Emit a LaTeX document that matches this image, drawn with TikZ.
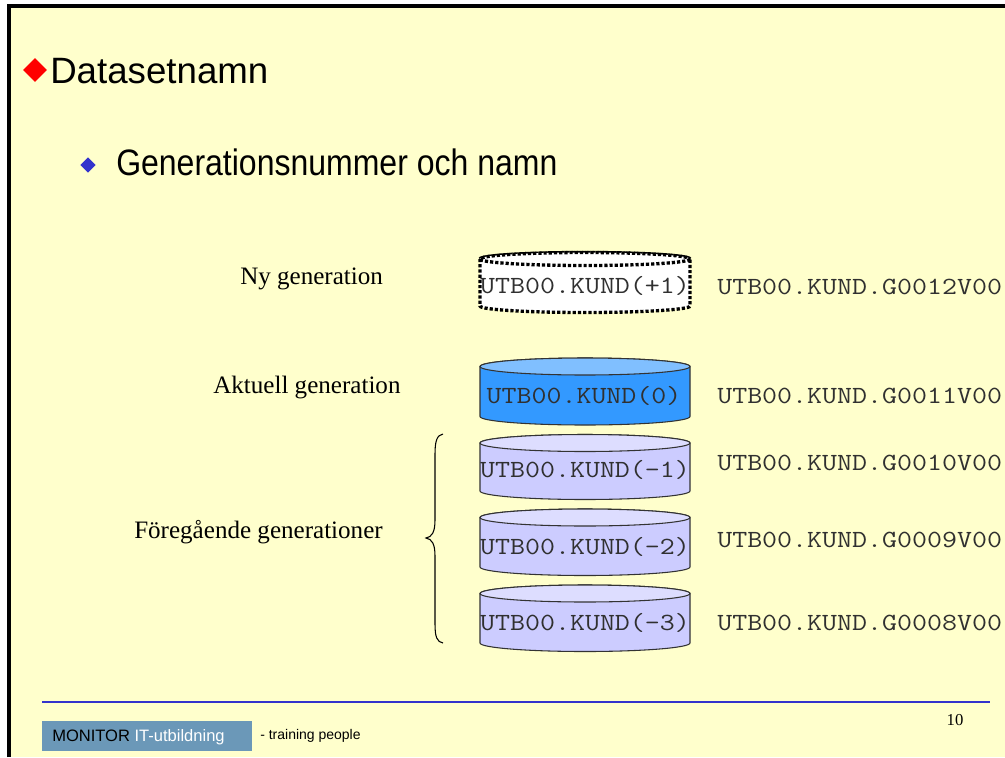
\documentclass[tikz,border=0pt]{standalone}
\usepackage{fontspec}
\setmainfont{Liberation Sans}
\newfontfamily\arialf{Liberation Sans}
\newfontfamily\tnrf{Liberation Serif}
\usetikzlibrary{shapes.geometric}
\definecolor{slidebg}{HTML}{FFFFCC}
\definecolor{bulletblue}{HTML}{3333CC}
\definecolor{cylblue}{HTML}{3399FF}
\definecolor{cylbluetop}{HTML}{80BFFF}
\definecolor{cyllav}{HTML}{CCCCFF}
\definecolor{cyllavtop}{HTML}{DDDDFF}
\definecolor{monotext}{HTML}{303030}
\definecolor{footbox}{HTML}{6B98B8}
\newcommand\monotxt[1]{\scalebox{1.18}[1]{#1}}
\tikzset{
  cyltext/.style={font=\ttfamily\fontsize{18.5}{20}\selectfont, text=monotext, inner sep=0pt},
  dsname/.style={font=\ttfamily\fontsize{18.5}{20}\selectfont, text=monotext, inner sep=0pt, anchor=west},
  genlabel/.style={font=\tnrf\fontsize{18.8}{20}\selectfont, inner sep=0pt, anchor=west},
  cylline/.style={draw=black!80, line width=0.8pt},
  dotline/.style={draw=black, line width=2.5pt, dash pattern=on 2.4pt off 1.5pt},
}
% #1 cx, #2 top y, #3 bottom y, #4 ry, #5 body colour, #6 top colour, #7 line style
\newcommand\mycyl[7]{%
  \path[#7, fill=#5] (#1-105,#2) -- (#1-105,#3)
     arc[start angle=180, end angle=0, x radius=105, y radius=#4]
     -- (#1+105,#2)
     arc[start angle=0, end angle=-180, x radius=105, y radius=#4] -- cycle;
  \path[#7, fill=#6] (#1,#2) ellipse[x radius=105, y radius=#4];
}
\begin{document}
\begin{tikzpicture}[x=0.75pt,y=-0.75pt]
\useasboundingbox (0,0) rectangle (1005,757);
\fill[white] (0,0) rectangle (1005,757);
\fill[slidebg] (9,6) rectangle (1005,757);
\draw[black, line width=3pt] (9,757) -- (9,5.5) -- (1005,5.5);

% title
\node[diamond, fill=red, inner sep=0pt, minimum width=18pt, minimum height=18pt] (rd) at (35,70) {};
\node[font=\arialf\fontsize{27.5}{30}\selectfont, anchor=base west, inner sep=0pt] (title) at (50,83) {Datasetnamn};
\node[diamond, fill=bulletblue, inner sep=0pt, minimum width=11.5pt, minimum height=11.5pt] (bd) at (88,165) {};
\node[font=\arialf\fontsize{24}{26}\selectfont, anchor=base west, inner sep=0pt] (sub) at (116,175) {\scalebox{1}[1.15]{Generationsnummer och namn}};

% cylinders
\mycyl{585}{259}{306}{6.5}{white}{white}{dotline}
\mycyl{585}{366.5}{416.5}{8.5}{cylblue}{cylbluetop}{cylline}
\mycyl{585}{443}{491}{8.5}{cyllav}{cyllavtop}{cylline}
\mycyl{585}{517.5}{567}{8.5}{cyllav}{cyllavtop}{cylline}
\mycyl{585}{593.5}{643}{8.5}{cyllav}{cyllavtop}{cylline}

\node[cyltext] (c1) at (585,286) {\monotxt{UTB00.KUND(+1)}};
\node[cyltext] (c0) at (584,396) {\monotxt{UTB00.KUND(0)}};
\node[cyltext] (cm1) at (585,470) {\monotxt{UTB00.KUND(-1)}};
\node[cyltext] (cm2) at (585,547) {\monotxt{UTB00.KUND(-2)}};
\node[cyltext] (cm3) at (585,623) {\monotxt{UTB00.KUND(-3)}};

\node[dsname] (n12) at (717,287) {\monotxt{UTB00.KUND.G0012V00}};
\node[dsname] (n11) at (717,396) {\monotxt{UTB00.KUND.G0011V00}};
\node[dsname] (n10) at (717,463) {\monotxt{UTB00.KUND.G0010V00}};
\node[dsname] (n09) at (717,540) {\monotxt{UTB00.KUND.G0009V00}};
\node[dsname] (n08) at (717,623) {\monotxt{UTB00.KUND.G0008V00}};

% labels
\node[genlabel] (ny) at (240,279) {Ny generation};
\node[genlabel] (akt) at (213,388) {Aktuell generation};
\node[genlabel] (fore) at (134,532) {Föregående generationer};

% brace
\draw[black, line width=0.8pt] (443,434) .. controls (437,435) and (435,441) .. (435,454)
  -- (435,520) .. controls (435,532) and (432,537) .. (426,538)
  .. controls (432,539) and (435,544) .. (435,556)
  -- (435,624) .. controls (435,637) and (437,642) .. (443,643);

% footer
\draw[bulletblue, line width=2.2pt] (42,702) -- (990,702);
\node[fill=footbox, inner sep=0pt, minimum width=157.5pt, minimum height=22.5pt, anchor=north west] (fbox) at (42,721) {};
\node[font=\arialf\fontsize{12.4}{14}\selectfont, anchor=west, inner sep=0pt] (mon) at (52,737) {MONITOR \textcolor{white}{IT-utbildning}};
\node[font=\arialf\fontsize{10.5}{12}\selectfont, anchor=west, inner sep=0pt] (tp) at (260,736) {- training people};
\node[font=\tnrf\fontsize{12.5}{14}\selectfont, inner sep=0pt] (pg) at (955,720) {10};
\end{tikzpicture}
\end{document}
